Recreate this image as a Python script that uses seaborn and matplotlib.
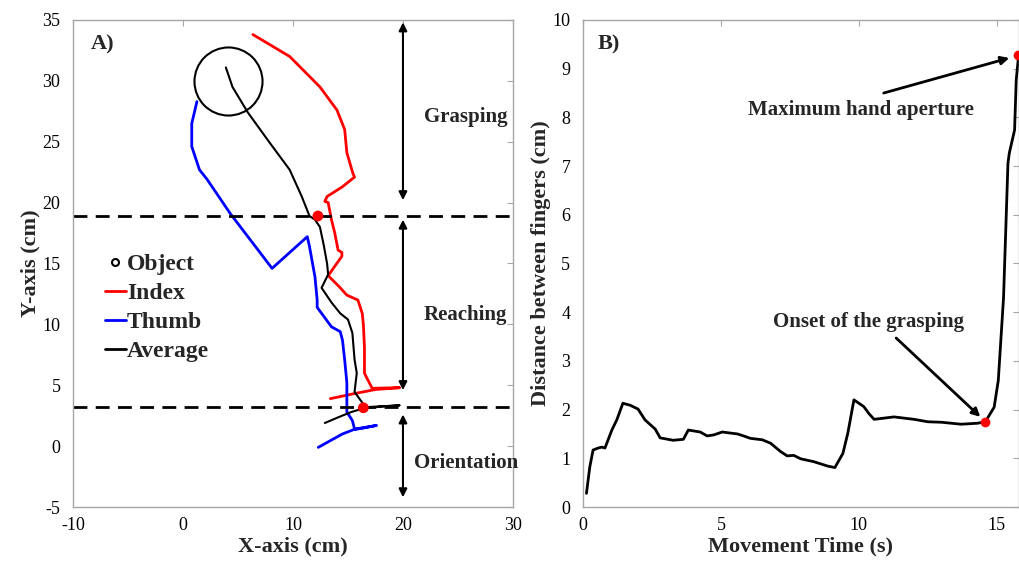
import numpy as np
import pandas as pd
import seaborn as sns
import matplotlib.pyplot as plt
from matplotlib.lines import Line2D

# ---- panel A: finger trajectories (cm) ----
index_x = [13.4, 15.5, 17.5, 19.7, 17.2, 16.6, 16.5, 16.5, 16.4, 16.3, 15.9, 14.9, 14.2, 13.2,
           14.45, 14.45, 14.1, 13.8, 13.5, 13.2, 12.9, 13.1, 14.5, 15.6, 15.45, 14.9, 14.7,
           14.0, 12.45, 9.7, 6.36]
index_y = [3.9, 4.3, 4.65, 4.8, 4.75, 5.8, 6.0, 8.1, 10.0, 10.9, 12.0, 12.4, 13.1, 14.0,
           15.6, 15.9, 16.1, 17.5, 18.6, 20.0, 20.1, 20.5, 21.3, 22.1, 22.4, 24.1, 26.0,
           27.6, 29.5, 32.0, 33.8]

thumb_x = [12.3, 13.5, 14.5, 15.5, 16.5, 17.6, 15.6, 15.4, 14.9, 14.9, 14.7, 14.5, 14.3, 13.5,
           12.2, 12.2, 12.0, 11.5, 11.3, 8.1, 4.3, 2.2, 1.5, 0.8, 0.8, 1.27]
thumb_y = [-0.1, 0.5, 1.0, 1.35, 1.5, 1.7, 1.4, 2.1, 2.8, 5.2, 7.1, 8.7, 9.4, 9.8,
           11.4, 12.0, 13.9, 16.4, 17.2, 14.6, 19.1, 21.9, 22.7, 24.6, 26.5, 28.3]

avg_x = [12.9, 14.2, 15.3, 16.4, 18.0, 19.7, 16.6, 15.6, 15.8, 15.6, 15.4, 15.0, 14.3, 13.5,
         12.6, 13.2, 13.1, 12.8, 12.45, 12.0, 11.5, 10.8, 9.7, 7.9, 5.9, 4.5, 3.9]
avg_y = [1.9, 2.4, 2.8, 3.1, 3.25, 3.35, 3.2, 4.45, 6.0, 7.1, 9.3, 10.4, 10.9, 11.8,
         13.0, 14.1, 15.0, 16.5, 18.0, 18.6, 18.9, 20.5, 22.7, 24.9, 27.4, 29.5, 31.1]

object_xy = (4.1, 30.0)
phase_marks_x = [12.27, 16.4]
phase_marks_y = [18.9, 3.15]
phase_lines = [18.9, 3.25]

# ---- panel B: grip aperture over time ----
time_s = [0.13, 0.25, 0.37, 0.55, 0.69, 0.8, 1.05, 1.23, 1.45, 1.71, 2.0, 2.25, 2.62, 2.8,
          3.27, 3.64, 3.82, 4.25, 4.5, 4.74, 5.05, 5.6, 5.82, 6.07, 6.5, 6.8, 7.16, 7.4,
          7.64, 7.89, 8.37, 8.87, 9.13, 9.42, 9.6, 9.82, 10.18, 10.36, 10.55, 11.27, 12.0,
          12.5, 13.0, 13.7, 14.3, 14.58, 14.9, 15.05, 15.24, 15.4, 15.45, 15.64, 15.7, 15.78]
aperture_cm = [0.28, 0.82, 1.17, 1.21, 1.23, 1.21, 1.58, 1.79, 2.13, 2.09, 2.01, 1.79, 1.6, 1.42,
               1.37, 1.39, 1.58, 1.54, 1.46, 1.48, 1.54, 1.5, 1.46, 1.41, 1.38, 1.31, 1.14, 1.05,
               1.06, 0.99, 0.93, 0.84, 0.81, 1.1, 1.52, 2.2, 2.06, 1.92, 1.8, 1.85, 1.8,
               1.75, 1.74, 1.7, 1.72, 1.75, 2.05, 2.6, 4.3, 7.06, 7.27, 7.74, 8.77, 9.24]
onset_pt = (14.58, 1.75)
max_pt = (15.78, 9.28)

sns.set_style("white")
plt.rcParams['font.family'] = ['Liberation Serif', 'DejaVu Serif']
plt.rcParams['axes.unicode_minus'] = False
plt.rcParams['xtick.direction'] = 'in'
plt.rcParams['ytick.direction'] = 'in'

fig = plt.figure(figsize=(10.19, 5.67), dpi=100)
axA = fig.add_axes([0.0716, 0.1058, 0.4318, 0.859])
axB = fig.add_axes([0.572, 0.1058, 0.428, 0.859])

spine_col = '#a6a6a6'
for ax in (axA, axB):
    for s in ax.spines.values():
        s.set_color(spine_col)
        s.set_linewidth(1.0)
    ax.tick_params(labelsize=13, colors=spine_col, labelcolor='black', length=4, width=0.8,
                   top=True, right=True)
    ax.tick_params(axis='y', pad=9)
    ax.tick_params(axis='x', pad=7)

# panel A
lw = 2.0
sns.lineplot(x=index_x, y=index_y, sort=False, estimator=None, color='red', lw=lw, ax=axA)
sns.lineplot(x=thumb_x, y=thumb_y, sort=False, estimator=None, color='blue', lw=lw, ax=axA)
sns.lineplot(x=avg_x, y=avg_y, sort=False, estimator=None, color='black', lw=1.5, ax=axA)
axA.plot(*object_xy, marker='o', ms=49, mfc='none', mec='black', mew=1.5)
for yl in phase_lines:
    axA.axhline(yl, color='black', lw=2, ls=(0, (5, 3)))
sns.scatterplot(x=phase_marks_x, y=phase_marks_y, color='red', s=60, edgecolor='none', ax=axA, zorder=5)

arr = dict(arrowstyle='<|-|>', color='black', lw=1.5, mutation_scale=12, shrinkA=0, shrinkB=0)
axA.annotate('', xy=(20, 34.8), xytext=(20, 20.2), arrowprops=arr)
axA.annotate('', xy=(20, 18.6), xytext=(20, 4.6), arrowprops=arr)
axA.annotate('', xy=(20, 2.6), xytext=(20, -4.2), arrowprops=arr)
tkw = dict(fontsize=15, fontweight='bold', ha='center', va='center')
axA.text(25.7, 27.0, 'Grasping', **tkw)
axA.text(25.7, 10.8, 'Reaching', **tkw)
axA.text(25.7, -1.4, 'Orientation', **tkw)
axA.text(-7.3, 33.0, 'A)', fontsize=16, fontweight='bold', ha='center', va='center')

axA.set_xlim(-10, 30)
axA.set_ylim(-5, 35)
axA.set_xticks(np.arange(-10, 31, 10))
axA.set_yticks(np.arange(-5, 36, 5))
axA.set_xlabel('X-axis (cm)', fontsize=16, fontweight='bold', labelpad=2)
axA.set_ylabel('Y-axis (cm)', fontsize=16, fontweight='bold', labelpad=1)

handles = [Line2D([], [], ls='none', marker='o', ms=5, mfc='none', mec='black', mew=1.5),
           Line2D([], [], color='red', lw=2),
           Line2D([], [], color='blue', lw=2),
           Line2D([], [], color='black', lw=2)]
axA.legend(handles, ['Object', 'Index', 'Thumb', 'Average'], loc='upper left',
           bbox_to_anchor=(0.045, 0.545), frameon=False, handlelength=0.9, handletextpad=0.05,
           labelspacing=0.32, borderpad=0, prop={'weight': 'bold', 'size': 17})

# panel B
sns.lineplot(x=time_s, y=aperture_cm, sort=False, estimator=None, color='black', lw=2, ax=axB)
axB.plot(*onset_pt, 'o', color='red', ms=7, mec='none', zorder=5)
axB.plot(*max_pt, 'o', color='red', ms=7, mec='none', zorder=5, clip_on=False)
akw = dict(arrowstyle='-|>', color='black', lw=2, mutation_scale=12, shrinkA=0, shrinkB=0)
bkw = dict(fontsize=15, fontweight='bold', ha='center', va='center')
axB.text(10.07, 8.15, 'Maximum hand aperture', **bkw)
axB.annotate('', xy=(15.45, 9.22), xytext=(10.9, 8.5), arrowprops=akw)
axB.text(10.36, 3.8, 'Onset of the grasping', **bkw)
axB.annotate('', xy=(14.4, 1.85), xytext=(11.35, 3.47), arrowprops=akw)
axB.text(0.55, 9.5, 'B)', fontsize=16, fontweight='bold', ha='left', va='center')

axB.set_xlim(0, 15.8)
axB.set_ylim(0, 10)
axB.set_xticks([0, 5, 10, 15])
axB.set_yticks(np.arange(0, 11, 1))
axB.set_xlabel('Movement Time (s)', fontsize=16, fontweight='bold', labelpad=2)
axB.set_ylabel('Distance between fingers (cm)', fontsize=16, fontweight='bold', labelpad=1)

fig.savefig('out.png', dpi=100)
